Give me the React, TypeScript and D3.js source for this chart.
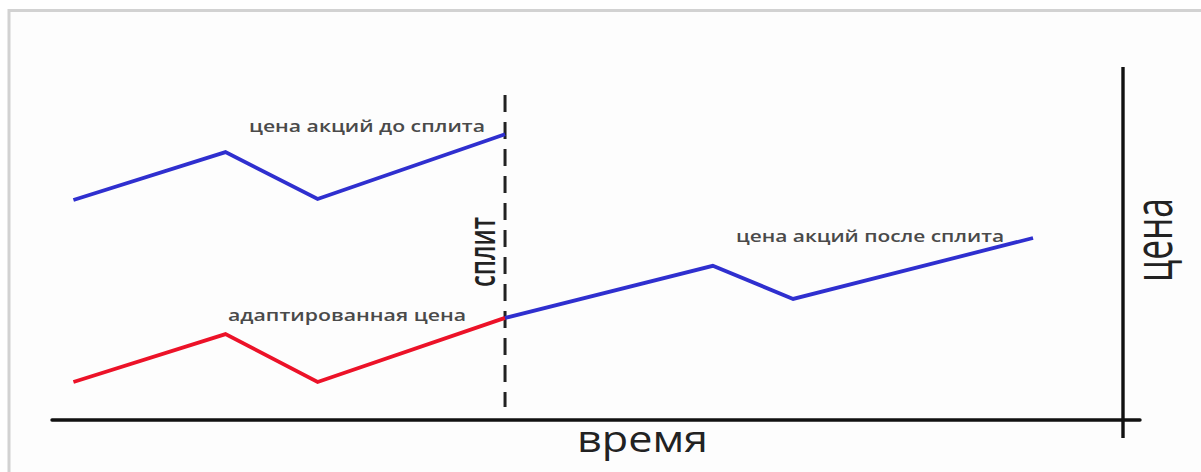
import React from "react";
import * as d3 from "d3";

// time (0..100 along the axis) and price (0..100 up the axis)
const timeBefore = [2.0, 16.2, 24.8, 42.3];
const priceBefore = [62.5, 76.1, 62.8, 81.2];
const timeAdjusted = [2.0, 16.2, 24.8, 42.3];
const priceAdjusted = [10.8, 24.4, 10.8, 29.0];
const timeAfter = [42.3, 61.7, 69.2, 91.6];
const priceAfter = [29.0, 43.8, 34.4, 51.7];
const splitTime = 42.3;

const labelBefore = "цена акций до сплита";
const labelAfter = "цена акций после сплита";
const labelAdjusted = "адаптированная цена";
const labelSplit = "сплит";
const labelX = "время";
const labelY = "цена";

const W = 1201;
const H = 472;

export default function App() {
  const x = d3.scaleLinear().domain([0, 100]).range([52, 1123]);
  const y = d3.scaleLinear().domain([0, 100]).range([420, 68]);
  const line = d3
    .line<[number, number]>()
    .x((d) => x(d[0]))
    .y((d) => y(d[1]));
  const zip = (a: number[], b: number[]) => a.map((v, i) => [v, b[i]] as [number, number]);

  const blue = "#2f2fcf";
  const red = "#ec1228";
  const font = "'Open Sans', sans-serif";
  const xs = x(splitTime);

  return (
    <svg
      width={W}
      height={H}
      style={{ position: "absolute", left: 0, top: 0, background: "#fff" }}
    >
      <rect x={9} y={10.5} width={1400} height={800} fill="#fdfdfd" stroke="#d2d2d2" strokeWidth={3} />
      {/* axes */}
      <line x1={x(0)} x2={x(100) + 17} y1={y(0)} y2={y(0)} stroke="#111" strokeWidth={3.4} strokeLinecap="round" />
      <line x1={x(100)} x2={x(100)} y1={y(100) - 1} y2={y(0) + 18} stroke="#111" strokeWidth={3.4} />
      {/* split */}
      <line x1={xs} x2={xs} y1={95} y2={407} stroke="#222" strokeWidth={3} strokeDasharray="17 10" />
      {/* series */}
      <path d={line(zip(timeBefore, priceBefore)) || ""} fill="none" stroke={blue} strokeWidth={3.8} />
      <path d={line(zip(timeAdjusted, priceAdjusted)) || ""} fill="none" stroke={red} strokeWidth={3.8} />
      <path d={line(zip(timeAfter, priceAfter)) || ""} fill="none" stroke={blue} strokeWidth={3.8} />
      {/* labels */}
      <text x={249} y={132} fontFamily={font} fontSize={16} fontWeight={600} fill="#4a4a4a" textLength={236} lengthAdjust="spacingAndGlyphs">
        {labelBefore}
      </text>
      <text x={736} y={242} fontFamily={font} fontSize={16} fontWeight={600} fill="#4a4a4a" textLength={268} lengthAdjust="spacingAndGlyphs">
        {labelAfter}
      </text>
      <text x={228} y={321} fontFamily={font} fontSize={16} fontWeight={600} fill="#4a4a4a" textLength={238} lengthAdjust="spacingAndGlyphs">
        {labelAdjusted}
      </text>
      <g transform={`translate(${xs - 10},287) rotate(-90) scale(1,1.55)`}>
        <text x={0} y={0} fontFamily={font} fontSize={23} fontWeight={600} fill="#222" textLength={70} lengthAdjust="spacingAndGlyphs">
          {labelSplit}
        </text>
      </g>
      <text x={577} y={452} fontFamily={font} fontSize={36} fontWeight={500} fill="#222" textLength={131} lengthAdjust="spacingAndGlyphs">
        {labelX}
      </text>
      <g transform={`translate(1172,282) rotate(-90) scale(1,1.6)`}>
        <text x={0} y={0} fontFamily={font} fontSize={33} fontWeight={500} fill="#222" textLength={84} lengthAdjust="spacingAndGlyphs">
          {labelY}
        </text>
      </g>
    </svg>
  );
}
